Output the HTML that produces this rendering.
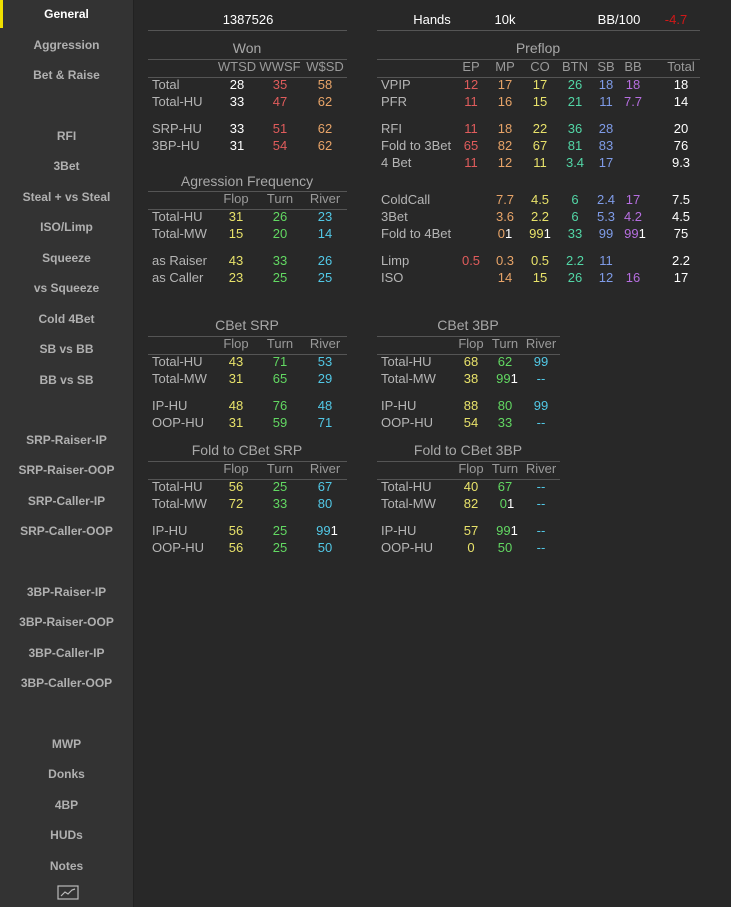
<!DOCTYPE html><html><head><style>
body{margin:0;width:731px;height:907px;background:#282828;font-family:"Liberation Sans",sans-serif;position:relative;overflow:hidden}
#sb{position:absolute;left:0;top:0;width:133px;height:907px;background:#333333;border-right:1px solid #222}
#sb b{position:absolute;left:0;width:133px;text-align:center;font-size:12px;color:#b0b0b0;transform:translateY(-50%)}
i{font-style:normal;position:absolute;font-size:13px;line-height:16px;transform:translate(-50%,-50%);white-space:nowrap}
i.l{transform:translateY(-50%);color:#b5b5b5}
i.h{color:#9a9a9a}
i.t{color:#a8a8a8;font-size:14px}
.hr{position:absolute;height:1px;background:#555}
.w{color:#fff}.r{color:#e05c5c}.o{color:#e8a468}.y{color:#e8e26a}.g{color:#62d862}.tl{color:#52d6a6}.b{color:#7f9ce8}.p{color:#b66ee0}.c{color:#52c8e6}
</style></head><body>
<div id="sb">
<div style="position:absolute;left:0;top:0;width:3px;height:28px;background:#f0e000"></div>
<b style="top:14px;color:#fff">General</b><b style="top:45px">Aggression</b><b style="top:75px">Bet &amp; Raise</b>
<b style="top:136px">RFI</b><b style="top:166px">3Bet</b><b style="top:197px">Steal + vs Steal</b><b style="top:227px">ISO/Limp</b><b style="top:258px">Squeeze</b><b style="top:288px">vs Squeeze</b><b style="top:319px">Cold 4Bet</b><b style="top:349px">SB vs BB</b><b style="top:380px">BB vs SB</b>
<b style="top:440px">SRP-Raiser-IP</b><b style="top:470px">SRP-Raiser-OOP</b><b style="top:501px">SRP-Caller-IP</b><b style="top:531px">SRP-Caller-OOP</b>
<b style="top:592px">3BP-Raiser-IP</b><b style="top:622px">3BP-Raiser-OOP</b><b style="top:653px">3BP-Caller-IP</b><b style="top:683px">3BP-Caller-OOP</b>
<b style="top:744px">MWP</b><b style="top:774px">Donks</b><b style="top:805px">4BP</b><b style="top:835px">HUDs</b><b style="top:866px">Notes</b>
<svg style="position:absolute;left:57px;top:885px" width="22" height="15"><rect x="1" y="1" width="20" height="13" fill="none" stroke="#bbb" stroke-width="1.2"/><polyline points="4,11 8,7 11,9 15,5 18,4" fill="none" stroke="#bbb" stroke-width="1.2"/></svg>
</div>

<i class="w" style="left:248px;top:20px">1387526</i><i class="w" style="left:432px;top:20px">Hands</i><i class="w" style="left:505px;top:20px">10k</i><i class="w" style="left:619px;top:20px">BB/100</i><i style="left:676px;top:20px;color:#d01818">-4.7</i>
<div class="hr" style="left:148px;top:30px;width:199px"></div><div class="hr" style="left:377px;top:30px;width:323px"></div>

<!-- Won -->
<i class="t" style="left:247px;top:48px">Won</i><div class="hr" style="left:148px;top:59px;width:199px"></div>
<i class="h" style="left:237px;top:67px">WTSD</i><i class="h" style="left:280px;top:67px">WWSF</i><i class="h" style="left:325px;top:67px">W$SD</i><div class="hr" style="left:148px;top:77px;width:199px"></div>
<i class="l" style="left:152px;top:85px">Total</i><i class="w" style="left:237px;top:85px">28</i><i class="r" style="left:280px;top:85px">35</i><i class="o" style="left:325px;top:85px">58</i>
<i class="l" style="left:152px;top:102px">Total-HU</i><i class="w" style="left:237px;top:102px">33</i><i class="r" style="left:280px;top:102px">47</i><i class="o" style="left:325px;top:102px">62</i>
<i class="l" style="left:152px;top:129px">SRP-HU</i><i class="w" style="left:237px;top:129px">33</i><i class="r" style="left:280px;top:129px">51</i><i class="o" style="left:325px;top:129px">62</i>
<i class="l" style="left:152px;top:146px">3BP-HU</i><i class="w" style="left:237px;top:146px">31</i><i class="r" style="left:280px;top:146px">54</i><i class="o" style="left:325px;top:146px">62</i>

<!-- Agression -->
<i class="t" style="left:247px;top:181px">Agression Frequency</i><div class="hr" style="left:148px;top:191px;width:199px"></div>
<i class="h" style="left:236px;top:199px">Flop</i><i class="h" style="left:280px;top:199px">Turn</i><i class="h" style="left:325px;top:199px">River</i><div class="hr" style="left:148px;top:209px;width:199px"></div>
<i class="l" style="left:152px;top:217px">Total-HU</i><i class="y" style="left:236px;top:217px">31</i><i class="g" style="left:280px;top:217px">26</i><i class="c" style="left:325px;top:217px">23</i>
<i class="l" style="left:152px;top:234px">Total-MW</i><i class="y" style="left:236px;top:234px">15</i><i class="g" style="left:280px;top:234px">20</i><i class="c" style="left:325px;top:234px">14</i>
<i class="l" style="left:152px;top:261px">as Raiser</i><i class="y" style="left:236px;top:261px">43</i><i class="g" style="left:280px;top:261px">33</i><i class="c" style="left:325px;top:261px">26</i>
<i class="l" style="left:152px;top:278px">as Caller</i><i class="y" style="left:236px;top:278px">23</i><i class="g" style="left:280px;top:278px">25</i><i class="c" style="left:325px;top:278px">25</i>

<!-- Preflop -->
<i class="t" style="left:538px;top:48px">Preflop</i><div class="hr" style="left:377px;top:59px;width:323px"></div>
<i class="h" style="left:471px;top:67px">EP</i><i class="h" style="left:505px;top:67px">MP</i><i class="h" style="left:540px;top:67px">CO</i><i class="h" style="left:575px;top:67px">BTN</i><i class="h" style="left:606px;top:67px">SB</i><i class="h" style="left:633px;top:67px">BB</i><i class="h" style="left:681px;top:67px">Total</i>
<div class="hr" style="left:377px;top:77px;width:323px"></div>
<i class="l" style="left:381px;top:85px">VPIP</i><i class="r" style="left:471px;top:85px">12</i><i class="o" style="left:505px;top:85px">17</i><i class="y" style="left:540px;top:85px">17</i><i class="tl" style="left:575px;top:85px">26</i><i class="b" style="left:606px;top:85px">18</i><i class="p" style="left:633px;top:85px">18</i><i class="w" style="left:681px;top:85px">18</i>
<i class="l" style="left:381px;top:102px">PFR</i><i class="r" style="left:471px;top:102px">11</i><i class="o" style="left:505px;top:102px">16</i><i class="y" style="left:540px;top:102px">15</i><i class="tl" style="left:575px;top:102px">21</i><i class="b" style="left:606px;top:102px">11</i><i class="p" style="left:633px;top:102px">7.7</i><i class="w" style="left:681px;top:102px">14</i>
<i class="l" style="left:381px;top:129px">RFI</i><i class="r" style="left:471px;top:129px">11</i><i class="o" style="left:505px;top:129px">18</i><i class="y" style="left:540px;top:129px">22</i><i class="tl" style="left:575px;top:129px">36</i><i class="b" style="left:606px;top:129px">28</i><i class="w" style="left:681px;top:129px">20</i>
<i class="l" style="left:381px;top:146px">Fold to 3Bet</i><i class="r" style="left:471px;top:146px">65</i><i class="o" style="left:505px;top:146px">82</i><i class="y" style="left:540px;top:146px">67</i><i class="tl" style="left:575px;top:146px">81</i><i class="b" style="left:606px;top:146px">83</i><i class="w" style="left:681px;top:146px">76</i>
<i class="l" style="left:381px;top:163px">4 Bet</i><i class="r" style="left:471px;top:163px">11</i><i class="o" style="left:505px;top:163px">12</i><i class="y" style="left:540px;top:163px">11</i><i class="tl" style="left:575px;top:163px">3.4</i><i class="b" style="left:606px;top:163px">17</i><i class="w" style="left:681px;top:163px">9.3</i>
<i class="l" style="left:381px;top:200px">ColdCall</i><i class="o" style="left:505px;top:200px">7.7</i><i class="y" style="left:540px;top:200px">4.5</i><i class="tl" style="left:575px;top:200px">6</i><i class="b" style="left:606px;top:200px">2.4</i><i class="p" style="left:633px;top:200px">17</i><i class="w" style="left:681px;top:200px">7.5</i>
<i class="l" style="left:381px;top:217px">3Bet</i><i class="o" style="left:505px;top:217px">3.6</i><i class="y" style="left:540px;top:217px">2.2</i><i class="tl" style="left:575px;top:217px">6</i><i class="b" style="left:606px;top:217px">5.3</i><i class="p" style="left:633px;top:217px">4.2</i><i class="w" style="left:681px;top:217px">4.5</i>
<i class="l" style="left:381px;top:234px">Fold to 4Bet</i><i class="o" style="left:505px;top:234px">0<span class="w">1</span></i><i class="y" style="left:540px;top:234px">99<span class="w">1</span></i><i class="tl" style="left:575px;top:234px">33</i><i class="b" style="left:606px;top:234px">99</i><i class="p" style="left:635px;top:234px">99<span class="w">1</span></i><i class="w" style="left:681px;top:234px">75</i>
<i class="l" style="left:381px;top:261px">Limp</i><i class="r" style="left:471px;top:261px">0.5</i><i class="o" style="left:505px;top:261px">0.3</i><i class="y" style="left:540px;top:261px">0.5</i><i class="tl" style="left:575px;top:261px">2.2</i><i class="b" style="left:606px;top:261px">11</i><i class="w" style="left:681px;top:261px">2.2</i>
<i class="l" style="left:381px;top:278px">ISO</i><i class="o" style="left:505px;top:278px">14</i><i class="y" style="left:540px;top:278px">15</i><i class="tl" style="left:575px;top:278px">26</i><i class="b" style="left:606px;top:278px">12</i><i class="p" style="left:633px;top:278px">16</i><i class="w" style="left:681px;top:278px">17</i>

<!-- CBet SRP -->
<i class="t" style="left:247px;top:325px">CBet SRP</i><div class="hr" style="left:148px;top:336px;width:199px"></div>
<i class="h" style="left:236px;top:344px">Flop</i><i class="h" style="left:280px;top:344px">Turn</i><i class="h" style="left:325px;top:344px">River</i><div class="hr" style="left:148px;top:354px;width:199px"></div>
<i class="l" style="left:152px;top:362px">Total-HU</i><i class="y" style="left:236px;top:362px">43</i><i class="g" style="left:280px;top:362px">71</i><i class="c" style="left:325px;top:362px">53</i>
<i class="l" style="left:152px;top:379px">Total-MW</i><i class="y" style="left:236px;top:379px">31</i><i class="g" style="left:280px;top:379px">65</i><i class="c" style="left:325px;top:379px">29</i>
<i class="l" style="left:152px;top:406px">IP-HU</i><i class="y" style="left:236px;top:406px">48</i><i class="g" style="left:280px;top:406px">76</i><i class="c" style="left:325px;top:406px">48</i>
<i class="l" style="left:152px;top:423px">OOP-HU</i><i class="y" style="left:236px;top:423px">31</i><i class="g" style="left:280px;top:423px">59</i><i class="c" style="left:325px;top:423px">71</i>

<!-- Fold CBet SRP -->
<i class="t" style="left:247px;top:450px">Fold to CBet SRP</i><div class="hr" style="left:148px;top:461px;width:199px"></div>
<i class="h" style="left:236px;top:469px">Flop</i><i class="h" style="left:280px;top:469px">Turn</i><i class="h" style="left:325px;top:469px">River</i><div class="hr" style="left:148px;top:479px;width:199px"></div>
<i class="l" style="left:152px;top:487px">Total-HU</i><i class="y" style="left:236px;top:487px">56</i><i class="g" style="left:280px;top:487px">25</i><i class="c" style="left:325px;top:487px">67</i>
<i class="l" style="left:152px;top:504px">Total-MW</i><i class="y" style="left:236px;top:504px">72</i><i class="g" style="left:280px;top:504px">33</i><i class="c" style="left:325px;top:504px">80</i>
<i class="l" style="left:152px;top:531px">IP-HU</i><i class="y" style="left:236px;top:531px">56</i><i class="g" style="left:280px;top:531px">25</i><i class="c" style="left:327px;top:531px">99<span class="w">1</span></i>
<i class="l" style="left:152px;top:548px">OOP-HU</i><i class="y" style="left:236px;top:548px">56</i><i class="g" style="left:280px;top:548px">25</i><i class="c" style="left:325px;top:548px">50</i>

<!-- CBet 3BP -->
<i class="t" style="left:468px;top:325px">CBet 3BP</i><div class="hr" style="left:377px;top:336px;width:183px"></div>
<i class="h" style="left:471px;top:344px">Flop</i><i class="h" style="left:505px;top:344px">Turn</i><i class="h" style="left:541px;top:344px">River</i><div class="hr" style="left:377px;top:354px;width:183px"></div>
<i class="l" style="left:381px;top:362px">Total-HU</i><i class="y" style="left:471px;top:362px">68</i><i class="g" style="left:505px;top:362px">62</i><i class="c" style="left:541px;top:362px">99</i>
<i class="l" style="left:381px;top:379px">Total-MW</i><i class="y" style="left:471px;top:379px">38</i><i class="g" style="left:507px;top:379px">99<span class="w">1</span></i><i class="c" style="left:541px;top:379px">--</i>
<i class="l" style="left:381px;top:406px">IP-HU</i><i class="y" style="left:471px;top:406px">88</i><i class="g" style="left:505px;top:406px">80</i><i class="c" style="left:541px;top:406px">99</i>
<i class="l" style="left:381px;top:423px">OOP-HU</i><i class="y" style="left:471px;top:423px">54</i><i class="g" style="left:505px;top:423px">33</i><i class="c" style="left:541px;top:423px">--</i>

<!-- Fold CBet 3BP -->
<i class="t" style="left:468px;top:450px">Fold to CBet 3BP</i><div class="hr" style="left:377px;top:461px;width:183px"></div>
<i class="h" style="left:471px;top:469px">Flop</i><i class="h" style="left:505px;top:469px">Turn</i><i class="h" style="left:541px;top:469px">River</i><div class="hr" style="left:377px;top:479px;width:183px"></div>
<i class="l" style="left:381px;top:487px">Total-HU</i><i class="y" style="left:471px;top:487px">40</i><i class="g" style="left:505px;top:487px">67</i><i class="c" style="left:541px;top:487px">--</i>
<i class="l" style="left:381px;top:504px">Total-MW</i><i class="y" style="left:471px;top:504px">82</i><i class="g" style="left:507px;top:504px">0<span class="w">1</span></i><i class="c" style="left:541px;top:504px">--</i>
<i class="l" style="left:381px;top:531px">IP-HU</i><i class="y" style="left:471px;top:531px">57</i><i class="g" style="left:507px;top:531px">99<span class="w">1</span></i><i class="c" style="left:541px;top:531px">--</i>
<i class="l" style="left:381px;top:548px">OOP-HU</i><i class="y" style="left:471px;top:548px">0</i><i class="g" style="left:505px;top:548px">50</i><i class="c" style="left:541px;top:548px">--</i>
</body></html>
